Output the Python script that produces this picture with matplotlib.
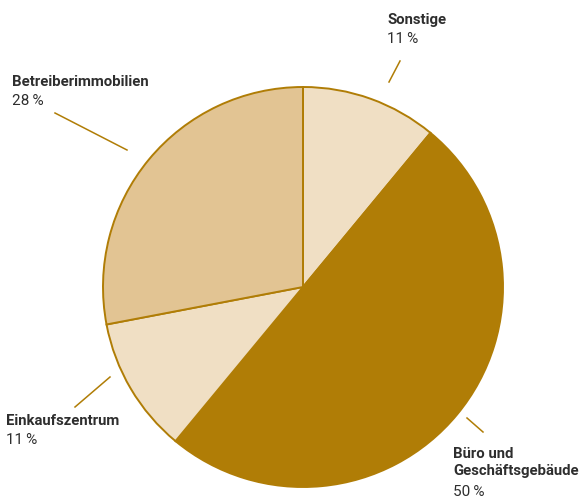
import matplotlib
matplotlib.use("Agg")
import matplotlib.pyplot as plt

# portfolio split by property type
categories = ["Sonstige", "Büro und\nGeschäftsgebäude", "Einkaufszentrum", "Betreiberimmobilien"]
shares = [11, 50, 11, 28]
colors = ["#f0dfc4", "#b07d06", "#f0dfc4", "#e2c493"]

EDGE = "#b07d06"
TEXT = "#2e2e2e"
W, H = 583, 499
CENTER = (303, H - 287)
RADIUS = 200

# layout in pixels from the top-left: label anchor, leader line start and end
label_pos = [(387, 13), (453, 447), (6, 414), (12, 75)]
leader_start = [(389, 82), (467, 418), (110, 377), (127, 150)]
leader_end = [(400, 61), (483, 432), (75, 407), (55, 113)]

plt.rcParams["font.family"] = ["Roboto", "DejaVu Sans"]

fig = plt.figure(figsize=(W / 100, H / 100), dpi=100)
ax = fig.add_axes([0, 0, 1, 1])

wedges, _ = ax.pie(shares, colors=colors, startangle=90, counterclock=False,
                   center=CENTER, radius=RADIUS, frame=False,
                   wedgeprops=dict(edgecolor=EDGE, linewidth=1.4))

# pie() sets its own limits, so pixel coordinates are fixed afterwards
ax.set_xlim(0, W)
ax.set_ylim(0, H)
ax.set_aspect("equal")
ax.axis("off")

for name, share, (lx, ly), (sx, sy), (ex, ey) in zip(categories, shares, label_pos,
                                                      leader_start, leader_end):
    ax.plot([sx, ex], [H - sy, H - ey], color=EDGE, lw=1.1)
    n_lines = name.count("\n") + 1
    ax.text(lx, H - ly, name, ha="left", va="top", fontsize=10.7,
            fontweight="bold", color=TEXT, linespacing=1.3)
    ax.text(lx, H - ly - 19 * n_lines, f"{share}\u2009%", ha="left", va="top",
            fontsize=11, color=TEXT)

fig.savefig("out.png", dpi=100)
